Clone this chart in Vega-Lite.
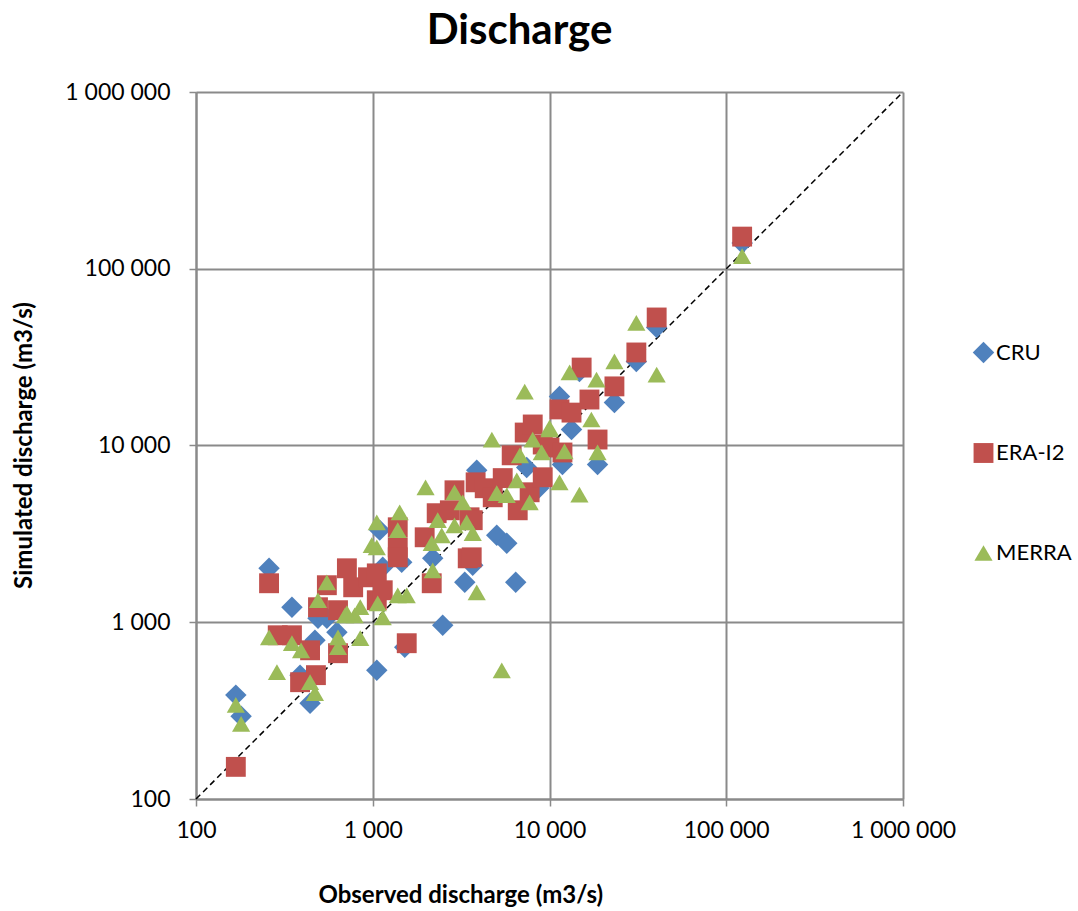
{
  "$schema": "https://vega.github.io/schema/vega-lite/v6.json",
  "autosize": {"type": "none"},
  "padding": {"left": 196, "top": 92, "right": 175, "bottom": 112},
  "width": 707,
  "height": 707,
  "background": "white",
  "title": {"text": "Discharge", "fontSize": 42, "font": "Lato", "fontWeight": "bold", "color": "#000000", "anchor": "middle", "dx": -30, "offset": 28},
  "config": {
    "view": {"stroke": null},
    "font": "Lato",
    "axis": {
      "gridColor": "#8a8a8a", "gridWidth": 2, "gridOpacity": 1,
      "domainColor": "#8a8a8a", "domainWidth": 2,
      "tickColor": "#8a8a8a", "tickWidth": 1.5, "tickSize": 7,
      "labelFont": "Lato", "labelFontSize": 23, "labelColor": "#000000", "labelFlush": false, "labelOverlap": false,
      "titleFont": "Lato", "titleFontSize": 24, "titleFontWeight": "bold", "titleColor": "#000000"
    }
  },
  "layer": [
    {
      "data": {"values": [{"observed": 100, "simulated": 100}, {"observed": 1000000, "simulated": 1000000}]},
      "mark": {"type": "line", "color": "#000000", "strokeWidth": 1.5, "strokeDash": [6, 4]},
      "encoding": {
        "x": {"field": "observed", "type": "quantitative", "scale": {"type": "log", "domain": [100, 1000000], "nice": false}},
        "y": {"field": "simulated", "type": "quantitative", "scale": {"type": "log", "domain": [100, 1000000], "nice": false}}
      }
    },
    {
      "data": {"values": [
        {"series": "CRU", "observed": 168, "simulated": 387},
        {"series": "CRU", "observed": 180, "simulated": 294},
        {"series": "CRU", "observed": 259, "simulated": 2020},
        {"series": "CRU", "observed": 349, "simulated": 1216},
        {"series": "CRU", "observed": 471, "simulated": 791},
        {"series": "CRU", "observed": 388, "simulated": 502},
        {"series": "CRU", "observed": 442, "simulated": 348},
        {"series": "CRU", "observed": 490, "simulated": 1054},
        {"series": "CRU", "observed": 550, "simulated": 1054},
        {"series": "CRU", "observed": 627, "simulated": 878},
        {"series": "CRU", "observed": 1054, "simulated": 535},
        {"series": "CRU", "observed": 1139, "simulated": 2046},
        {"series": "CRU", "observed": 1458, "simulated": 2184},
        {"series": "CRU", "observed": 2184, "simulated": 2300},
        {"series": "CRU", "observed": 3678, "simulated": 2100},
        {"series": "CRU", "observed": 3316, "simulated": 1683},
        {"series": "CRU", "observed": 2488, "simulated": 962},
        {"series": "CRU", "observed": 5030, "simulated": 3105},
        {"series": "CRU", "observed": 5730, "simulated": 2800},
        {"series": "CRU", "observed": 6440, "simulated": 1683},
        {"series": "CRU", "observed": 3875, "simulated": 7240},
        {"series": "CRU", "observed": 7430, "simulated": 7510},
        {"series": "CRU", "observed": 8700, "simulated": 5750},
        {"series": "CRU", "observed": 11840, "simulated": 7810},
        {"series": "CRU", "observed": 13320, "simulated": 12320},
        {"series": "CRU", "observed": 11390, "simulated": 18930},
        {"series": "CRU", "observed": 18700, "simulated": 7810},
        {"series": "CRU", "observed": 23300, "simulated": 17500},
        {"series": "CRU", "observed": 31000, "simulated": 29900},
        {"series": "CRU", "observed": 40400, "simulated": 46500},
        {"series": "CRU", "observed": 123000, "simulated": 140000},
        {"series": "CRU", "observed": 14770, "simulated": 26200},
        {"series": "CRU", "observed": 1517, "simulated": 722},
        {"series": "CRU", "observed": 1095, "simulated": 3320},
        {"series": "ERA-I2", "observed": 168, "simulated": 152},
        {"series": "ERA-I2", "observed": 259, "simulated": 1662},
        {"series": "ERA-I2", "observed": 290, "simulated": 844},
        {"series": "ERA-I2", "observed": 349, "simulated": 844},
        {"series": "ERA-I2", "observed": 442, "simulated": 694},
        {"series": "ERA-I2", "observed": 388, "simulated": 458},
        {"series": "ERA-I2", "observed": 477, "simulated": 502},
        {"series": "ERA-I2", "observed": 490, "simulated": 1216},
        {"series": "ERA-I2", "observed": 636, "simulated": 1170},
        {"series": "ERA-I2", "observed": 636, "simulated": 668},
        {"series": "ERA-I2", "observed": 714, "simulated": 2020},
        {"series": "ERA-I2", "observed": 550, "simulated": 1620},
        {"series": "ERA-I2", "observed": 775, "simulated": 1577},
        {"series": "ERA-I2", "observed": 940, "simulated": 1796},
        {"series": "ERA-I2", "observed": 1054, "simulated": 1890},
        {"series": "ERA-I2", "observed": 1054, "simulated": 1332},
        {"series": "ERA-I2", "observed": 1139, "simulated": 1517},
        {"series": "ERA-I2", "observed": 1385, "simulated": 3446},
        {"series": "ERA-I2", "observed": 1385, "simulated": 2655},
        {"series": "ERA-I2", "observed": 1385, "simulated": 2331},
        {"series": "ERA-I2", "observed": 1557, "simulated": 761},
        {"series": "ERA-I2", "observed": 1967, "simulated": 3025},
        {"series": "ERA-I2", "observed": 2156, "simulated": 1662},
        {"series": "ERA-I2", "observed": 2300, "simulated": 4140},
        {"series": "ERA-I2", "observed": 2730, "simulated": 4300},
        {"series": "ERA-I2", "observed": 2900, "simulated": 5580},
        {"series": "ERA-I2", "observed": 3530, "simulated": 3925},
        {"series": "ERA-I2", "observed": 3446, "simulated": 2300},
        {"series": "ERA-I2", "observed": 3820, "simulated": 6190},
        {"series": "ERA-I2", "observed": 4300, "simulated": 5730},
        {"series": "ERA-I2", "observed": 5437, "simulated": 6540},
        {"series": "ERA-I2", "observed": 4773, "simulated": 5094},
        {"series": "ERA-I2", "observed": 6611, "simulated": 4300},
        {"series": "ERA-I2", "observed": 7720, "simulated": 5437},
        {"series": "ERA-I2", "observed": 9156, "simulated": 6611},
        {"series": "ERA-I2", "observed": 9156, "simulated": 10130},
        {"series": "ERA-I2", "observed": 6110, "simulated": 8800},
        {"series": "ERA-I2", "observed": 7240, "simulated": 11840},
        {"series": "ERA-I2", "observed": 8038, "simulated": 13150},
        {"series": "ERA-I2", "observed": 10000, "simulated": 9740},
        {"series": "ERA-I2", "observed": 11390, "simulated": 16000},
        {"series": "ERA-I2", "observed": 13320, "simulated": 15350},
        {"series": "ERA-I2", "observed": 18700, "simulated": 10810},
        {"series": "ERA-I2", "observed": 11840, "simulated": 9130},
        {"series": "ERA-I2", "observed": 16830, "simulated": 18200},
        {"series": "ERA-I2", "observed": 23300, "simulated": 21600},
        {"series": "ERA-I2", "observed": 15200, "simulated": 27600},
        {"series": "ERA-I2", "observed": 31000, "simulated": 33600},
        {"series": "ERA-I2", "observed": 40400, "simulated": 53000},
        {"series": "ERA-I2", "observed": 123000, "simulated": 152000},
        {"series": "ERA-I2", "observed": 3630, "simulated": 2330},
        {"series": "ERA-I2", "observed": 3678, "simulated": 3780},
        {"series": "MERRA", "observed": 168, "simulated": 341},
        {"series": "MERRA", "observed": 180, "simulated": 266},
        {"series": "MERRA", "observed": 259, "simulated": 822},
        {"series": "MERRA", "observed": 349, "simulated": 761},
        {"series": "MERRA", "observed": 393, "simulated": 694},
        {"series": "MERRA", "observed": 287, "simulated": 522},
        {"series": "MERRA", "observed": 442, "simulated": 458},
        {"series": "MERRA", "observed": 471, "simulated": 397},
        {"series": "MERRA", "observed": 490, "simulated": 1332},
        {"series": "MERRA", "observed": 550, "simulated": 1683},
        {"series": "MERRA", "observed": 697, "simulated": 1095},
        {"series": "MERRA", "observed": 790, "simulated": 1095},
        {"series": "MERRA", "observed": 850, "simulated": 1216},
        {"series": "MERRA", "observed": 636, "simulated": 822},
        {"series": "MERRA", "observed": 636, "simulated": 722},
        {"series": "MERRA", "observed": 850, "simulated": 812},
        {"series": "MERRA", "observed": 714, "simulated": 1125},
        {"series": "MERRA", "observed": 1067, "simulated": 1280},
        {"series": "MERRA", "observed": 1054, "simulated": 3678},
        {"series": "MERRA", "observed": 1054, "simulated": 2655},
        {"series": "MERRA", "observed": 1420, "simulated": 4190},
        {"series": "MERRA", "observed": 1385, "simulated": 3316},
        {"series": "MERRA", "observed": 1139, "simulated": 1067},
        {"series": "MERRA", "observed": 1385, "simulated": 1420},
        {"series": "MERRA", "observed": 1557, "simulated": 1420},
        {"series": "MERRA", "observed": 1990, "simulated": 5800},
        {"series": "MERRA", "observed": 2900, "simulated": 5437},
        {"series": "MERRA", "observed": 3228, "simulated": 4773},
        {"series": "MERRA", "observed": 2331, "simulated": 3780},
        {"series": "MERRA", "observed": 3400, "simulated": 3678},
        {"series": "MERRA", "observed": 2900, "simulated": 3530},
        {"series": "MERRA", "observed": 2456, "simulated": 3105},
        {"series": "MERRA", "observed": 2156, "simulated": 2800},
        {"series": "MERRA", "observed": 2184, "simulated": 1967},
        {"series": "MERRA", "observed": 3678, "simulated": 3190},
        {"series": "MERRA", "observed": 3875, "simulated": 1477},
        {"series": "MERRA", "observed": 4720, "simulated": 10810},
        {"series": "MERRA", "observed": 5030, "simulated": 5380},
        {"series": "MERRA", "observed": 5730, "simulated": 5230},
        {"series": "MERRA", "observed": 6530, "simulated": 6350},
        {"series": "MERRA", "observed": 6800, "simulated": 8800},
        {"series": "MERRA", "observed": 7720, "simulated": 4773},
        {"series": "MERRA", "observed": 5370, "simulated": 535},
        {"series": "MERRA", "observed": 8038, "simulated": 10810},
        {"series": "MERRA", "observed": 9040, "simulated": 9130},
        {"series": "MERRA", "observed": 10000, "simulated": 12640},
        {"series": "MERRA", "observed": 10000, "simulated": 12320},
        {"series": "MERRA", "observed": 12160, "simulated": 9250},
        {"series": "MERRA", "observed": 11390, "simulated": 6180},
        {"series": "MERRA", "observed": 14770, "simulated": 5280},
        {"series": "MERRA", "observed": 18700, "simulated": 9130},
        {"series": "MERRA", "observed": 17250, "simulated": 14030},
        {"series": "MERRA", "observed": 7240, "simulated": 20200},
        {"series": "MERRA", "observed": 18450, "simulated": 23600},
        {"series": "MERRA", "observed": 13000, "simulated": 25900},
        {"series": "MERRA", "observed": 23300, "simulated": 29900},
        {"series": "MERRA", "observed": 31000, "simulated": 49400},
        {"series": "MERRA", "observed": 40400, "simulated": 25200},
        {"series": "MERRA", "observed": 123000, "simulated": 118000},
        {"series": "MERRA", "observed": 987, "simulated": 2730}
      ]},
      "mark": {"type": "point", "filled": true, "opacity": 1},
      "encoding": {
        "x": {"field": "observed", "type": "quantitative",
              "scale": {"type": "log", "domain": [100, 1000000], "nice": false},
              "axis": {"values": [100, 1000, 10000, 100000, 1000000], "labelExpr": "replace(format(datum.value, ','), regexp(',', 'g'), ' ')",
                       "labelPadding": 13, "title": "Observed discharge (m3/s)", "titleAnchor": "start", "titleAlign": "left", "titleX": 122, "titleY": 103, "titleBaseline": "alphabetic"}},
        "y": {"field": "simulated", "type": "quantitative",
              "scale": {"type": "log", "domain": [100, 1000000], "nice": false},
              "axis": {"values": [100, 1000, 10000, 100000, 1000000], "labelExpr": "replace(format(datum.value, ','), regexp(',', 'g'), ' ')",
                       "labelPadding": 19, "title": "Simulated discharge (m3/s)", "titleX": -165, "titleY": 353, "titleAngle": -90, "titleAlign": "center", "titleAnchor": "middle", "titleBaseline": "alphabetic"}},
        "color": {"field": "series", "type": "nominal",
                  "scale": {"domain": ["CRU", "ERA-I2", "MERRA"], "range": ["#4F81BD", "#C0504D", "#9BBB59"]},
                  "legend": {"title": null, "orient": "none", "legendX": 776, "legendY": 249, "labelFontSize": 22, "labelFont": "Lato", "labelColor": "#000000", "symbolSize": 240, "rowPadding": 78, "labelOffset": 1}},
        "shape": {"field": "series", "type": "nominal",
                  "scale": {"domain": ["CRU", "ERA-I2", "MERRA"], "range": ["diamond", "square", "triangle-up"]}},
        "size": {"field": "series", "type": "nominal",
                 "scale": {"domain": ["CRU", "ERA-I2", "MERRA"], "range": [460, 330, 420]}, "legend": null}
      }
    }
  ]
}
